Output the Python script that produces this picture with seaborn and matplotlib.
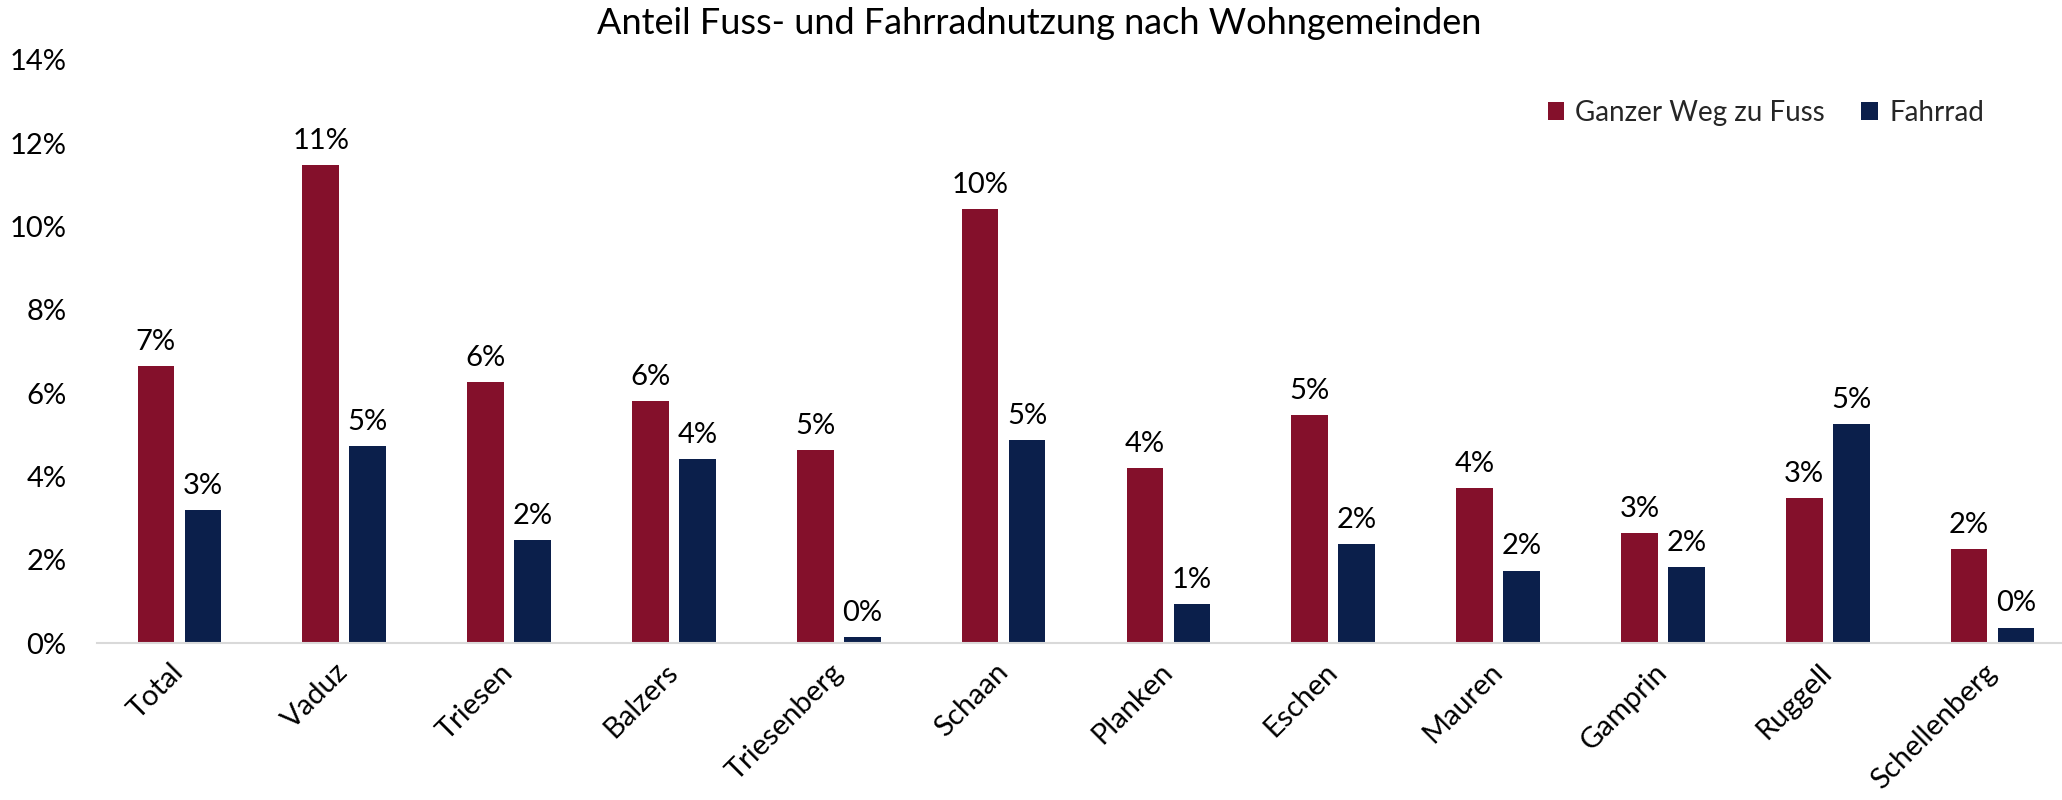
import pandas as pd
import seaborn as sns
import matplotlib.pyplot as plt
from matplotlib.ticker import PercentFormatter, MultipleLocator

sns.set_theme(style="white")
plt.rcParams["font.family"] = ["Lato", "DejaVu Sans"]

gemeinden = ["Total", "Vaduz", "Triesen", "Balzers", "Triesenberg", "Schaan",
             "Planken", "Eschen", "Mauren", "Gamprin", "Ruggell", "Schellenberg"]
fuss = [6.64, 11.47, 6.27, 5.81, 4.64, 10.42, 4.20, 5.48, 3.72, 2.64, 3.49, 2.25]
fahrrad = [3.20, 4.72, 2.48, 4.42, 0.14, 4.88, 0.93, 2.37, 1.74, 1.83, 5.26, 0.37]
modi = ["Ganzer Weg zu Fuss", "Fahrrad"]

df = pd.DataFrame({
    "Gemeinde": gemeinden * 2,
    "Anteil": fuss + fahrrad,
    "Modus": [modi[0]] * len(gemeinden) + [modi[1]] * len(gemeinden),
})

palette = {modi[0]: "#84102B", modi[1]: "#0B1F4B"}

fig = plt.figure(figsize=(20.62, 8), dpi=100)
ax = fig.add_axes([97 / 2062, 1 - 643 / 800, 1978 / 2062, 583 / 800])

sns.barplot(data=df, x="Gemeinde", y="Anteil", hue="Modus", palette=palette,
            width=0.57, gap=0.22, saturation=1, linewidth=0, ax=ax)

for c in ax.containers:
    ax.bar_label(c, fmt="{:.0f}%", padding=8, fontsize=21, color="black")

ax.set_xlim(-0.5, 11.5)
ax.set_ylim(0, 14)
ax.yaxis.set_major_locator(MultipleLocator(2))
ax.yaxis.set_major_formatter(PercentFormatter(xmax=100, decimals=0))
ax.set_xlabel("")
ax.set_ylabel("")
ax.tick_params(axis="y", length=0, pad=22, labelsize=21, labelcolor="black")
ax.tick_params(axis="x", length=0, pad=18, labelsize=21, labelcolor="black")
for lab in ax.get_xticklabels():
    lab.set_rotation(45)
    lab.set_ha("right")
    lab.set_va("center")
    lab.set_rotation_mode("anchor")

sns.despine(ax=ax, left=True)
ax.spines["bottom"].set_color("#D9D9D9")
ax.spines["bottom"].set_linewidth(1.5)

handles, labels = ax.get_legend_handles_labels()
ax.get_legend().remove()
fig.legend(handles, labels, loc="center right", bbox_to_anchor=(1995 / 2062, 1 - 113 / 800),
           ncol=2, frameon=False, fontsize=20, handlelength=0.6, handleheight=0.6,
           handletextpad=0.4, columnspacing=1.3, borderaxespad=0)

fig.text(0.504, 1 - 24 / 800, "Anteil Fuss- und Fahrradnutzung nach Wohngemeinden",
         ha="center", va="center", fontsize=26, color="black")

fig.savefig("out.png", dpi=100, facecolor="white")
